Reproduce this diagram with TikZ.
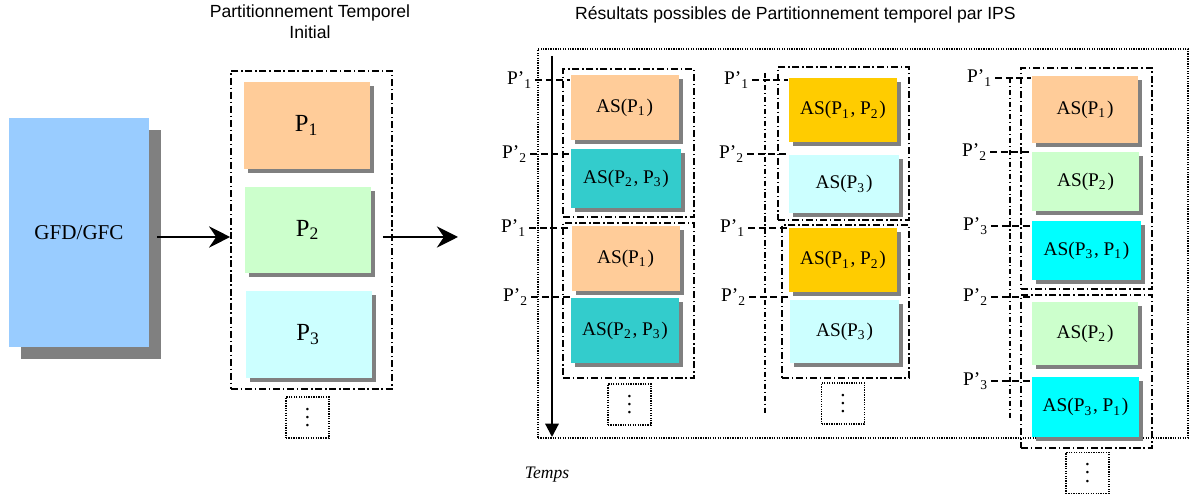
\documentclass[tikz,border=0pt]{standalone}
\usepackage{fontspec}
\setmainfont{Liberation Serif}
\newfontfamily\arialfont{Liberation Sans}
\usetikzlibrary{arrows.meta,shadows}

\definecolor{gfdblue}{HTML}{99CCFF}
\definecolor{porange}{HTML}{FFCC99}
\definecolor{pgreen}{HTML}{CCFFCC}
\definecolor{pcyan}{HTML}{CCFFFF}
\definecolor{pteal}{HTML}{33CCCC}
\definecolor{pgold}{HTML}{FFCC00}
\definecolor{paqua}{HTML}{00FFFF}
\definecolor{shgray}{HTML}{808080}

\newcommand\tinyvdots{\vbox{\baselineskip2.4pt \lineskiplimit0pt \hbox{.}\hbox{.}\hbox{.}}}

\begin{document}
\begin{tikzpicture}[x=1cm, y=-1cm,
  asbox/.style={fill=#1, inner sep=0pt, minimum width=1.08cm, minimum height=0.64cm,
    font=\fontsize{5.5}{6.6}\selectfont,
    drop shadow={shadow xshift=0.04cm, shadow yshift=-0.04cm, fill=shgray, opacity=1}},
  pbox/.style={asbox=#1, minimum width=1.26cm, minimum height=0.87cm, font=\fontsize{7}{8.4}\selectfont},
  grpbox/.style={draw, line width=0.45pt, dash pattern=on 2pt off 0.8pt on 0.4pt off 0.8pt,
    minimum width=1.31cm, inner sep=0pt},
  dotbox/.style={draw, line width=0.45pt, dash pattern=on 0.35pt off 0.35pt,
    minimum width=0.43cm, minimum height=0.41cm, inner sep=0pt, font=\fontsize{6}{6}\selectfont},
  plabel/.style={inner sep=0.5pt, font=\fontsize{5.5}{6.6}\selectfont},
  pline/.style={line width=0.4pt, dash pattern=on 2pt off 1pt},
  timeline/.style={line width=0.35pt, dash pattern=on 1.5pt off 0.8pt on 0.3pt off 0.8pt},
  flow/.style={-{Stealth[length=6pt, width=6pt, inset=2pt]}, line width=0.85pt},
  title/.style={font=\arialfont\fontsize{5}{6}\selectfont, align=center}
]
\useasboundingbox (0,0) rectangle (11.92,5.00);

% titres
\node (tinit) at (3.10,0.22) [title] {Partitionnement Temporel\\Initial};
\node (tres) at (7.955,0.15) [title] {Résultats possibles de Partitionnement temporel par IPS};

% GFD et partitionnement initial
\node (gfd) at (0.79,2.325) [fill=gfdblue, minimum width=1.40cm, minimum height=2.29cm,
  drop shadow={shadow xshift=0.12cm, shadow yshift=-0.12cm, fill=shgray, opacity=1},
  font=\fontsize{6}{7.2}\selectfont] {GFD/GFC};
\node (init) at (3.115,2.30) [grpbox, minimum width=1.61cm, minimum height=3.18cm] {};
\node (p1) at (3.07,1.255) [pbox=porange] {P\textsubscript{1}};
\node (p2) at (3.08,2.30) [pbox=pgreen, minimum height=0.86cm] {P\textsubscript{2}};
\node (p3) at (3.085,3.345) [pbox=pcyan] {P\textsubscript{3}};
\node (initdots) at (3.075,4.175) [dotbox] {\tinyvdots};

\coordinate (a0) at (1.57,2.37);
\coordinate (res) at (4.58,2.37);
\draw[flow] (a0) -- (a0 -| init.west);
\draw[flow] ([xshift=-0.1cm]init.east |- res) -- (res);

% cadre des resultats et axe du temps
\node (frame) at (8.63,2.435) [dotbox, minimum width=6.50cm, minimum height=3.89cm] {};
\coordinate (t0) at (5.52,0.56);
\coordinate (t1) at (5.52,4.37);
\draw[-{Triangle[length=3.8pt, width=3.8pt]}, line width=0.6pt] (t0) -- (t1);
\node (temps) at (5.47,4.75) [font=\fontsize{5}{6}\selectfont\itshape] {Temps};

% premiere solution
\node (ga1) at (6.285,1.43) [grpbox, minimum height=1.48cm] {};
\node (ga2) at (6.285,3.005) [grpbox, minimum height=1.55cm] {};
\node (a11) at (6.245,1.075) [asbox=porange, minimum height=0.65cm] {AS(P\textsubscript{1})};
\node (a12) at (6.26,1.785) [asbox=pteal, minimum width=1.10cm, minimum height=0.59cm] {AS(P\textsubscript{2}, P\textsubscript{3})};
\node (a21) at (6.255,2.585) [asbox=porange, minimum height=0.65cm] {AS(P\textsubscript{1})};
\node (a22) at (6.25,3.305) [asbox=pteal, minimum height=0.65cm] {AS(P\textsubscript{2}, P\textsubscript{3})};
\node (dotsa) at (6.295,4.045) [dotbox] {\tinyvdots};

\node (pa1) at (5.20,0.80) [plabel] {P’\textsubscript{1}};
\node (pa2) at (5.15,1.54) [plabel] {P’\textsubscript{2}};
\node (pa3) at (5.14,2.28) [plabel] {P’\textsubscript{1}};
\node (pa4) at (5.16,2.97) [plabel] {P’\textsubscript{2}};
\draw[pline] (pa1.east) -- (pa1.east -| a11.west);
\draw[pline] (pa2.east) -- (pa2.east -| a12.west);
\draw[pline] (pa3.east) -- (pa3.east -| a21.west);
\draw[pline] (pa4.east) -- (pa4.east -| a22.west);

% deuxieme solution
\coordinate (vb0) at (7.65,0.73);
\coordinate (vb1) at (7.65,4.13);
\draw[timeline] (vb0) -- (vb1);
\node (gb1) at (8.435,1.435) [grpbox, minimum height=1.53cm] {};
\node (gb2) at (8.455,3.015) [grpbox, minimum width=1.27cm, minimum height=1.53cm] {};
\node (b11) at (8.43,1.10) [asbox=pgold] {AS(P\textsubscript{1}, P\textsubscript{2})};
\node (b12) at (8.44,1.84) [asbox=pcyan, minimum width=1.10cm, minimum height=0.58cm] {AS(P\textsubscript{3})};
\node (b21) at (8.43,2.60) [asbox=pgold] {AS(P\textsubscript{1}, P\textsubscript{2})};
\node (b22) at (8.445,3.315) [asbox=pcyan, minimum width=1.09cm, minimum height=0.63cm] {AS(P\textsubscript{3})};
\node (dotsb) at (8.43,4.035) [dotbox] {\tinyvdots};

\node (pb1) at (7.37,0.80) [plabel] {P’\textsubscript{1}};
\node (pb2) at (7.32,1.54) [plabel] {P’\textsubscript{2}};
\node (pb3) at (7.33,2.28) [plabel] {P’\textsubscript{1}};
\node (pb4) at (7.34,2.97) [plabel] {P’\textsubscript{2}};
\draw[pline] (pb1.east) -- (pb1.east -| b11.west);
\draw[pline] (pb2.east) -- (pb2.east -| b12.west);
\draw[pline] (pb3.east) -- (pb3.east -| b21.west);
\draw[pline] (pb4.east) -- (pb4.east -| b22.west);

% troisieme solution
\coordinate (vc0) at (10.10,0.78);
\coordinate (vc1) at (10.10,4.18);
\draw[timeline] (vc0) -- (vc1);
\node (gc1) at (10.865,1.785) [grpbox, minimum height=2.21cm] {};
\node (gc2) at (10.865,3.715) [grpbox, minimum height=1.53cm] {};
\node (c11) at (10.85,1.095) [asbox=porange, minimum width=1.06cm, minimum height=0.67cm] {AS(P\textsubscript{1})};
\node (c12) at (10.855,1.815) [asbox=pgreen, minimum width=1.07cm, minimum height=0.59cm] {AS(P\textsubscript{2})};
\node (c13) at (10.865,2.505) [asbox=paqua, minimum width=1.09cm, minimum height=0.59cm] {AS(P\textsubscript{3}, P\textsubscript{1})};
\node (c21) at (10.85,3.335) [asbox=pgreen, minimum width=1.06cm, minimum height=0.63cm] {AS(P\textsubscript{2})};
\node (c22) at (10.855,4.07) [asbox=paqua, minimum width=1.07cm, minimum height=0.60cm] {AS(P\textsubscript{3}, P\textsubscript{1})};
\node (dotsc) at (10.875,4.73) [dotbox] {\tinyvdots};

\node (pc1) at (9.80,0.78) [plabel] {P’\textsubscript{1}};
\node (pc2) at (9.75,1.52) [plabel] {P’\textsubscript{2}};
\node (pc3) at (9.76,2.26) [plabel] {P’\textsubscript{3}};
\node (pc4) at (9.76,2.97) [plabel] {P’\textsubscript{2}};
\node (pc5) at (9.76,3.81) [plabel] {P’\textsubscript{3}};
\draw[pline] (pc1.east) -- (pc1.east -| c11.west);
\draw[pline] (pc2.east) -- (pc2.east -| c12.west);
\draw[pline] (pc3.east) -- (pc3.east -| c13.west);
\draw[pline] (pc4.east) -- (pc4.east -| c21.west);
\draw[pline] (pc5.east) -- (pc5.east -| c22.west);
\end{tikzpicture}
\end{document}
